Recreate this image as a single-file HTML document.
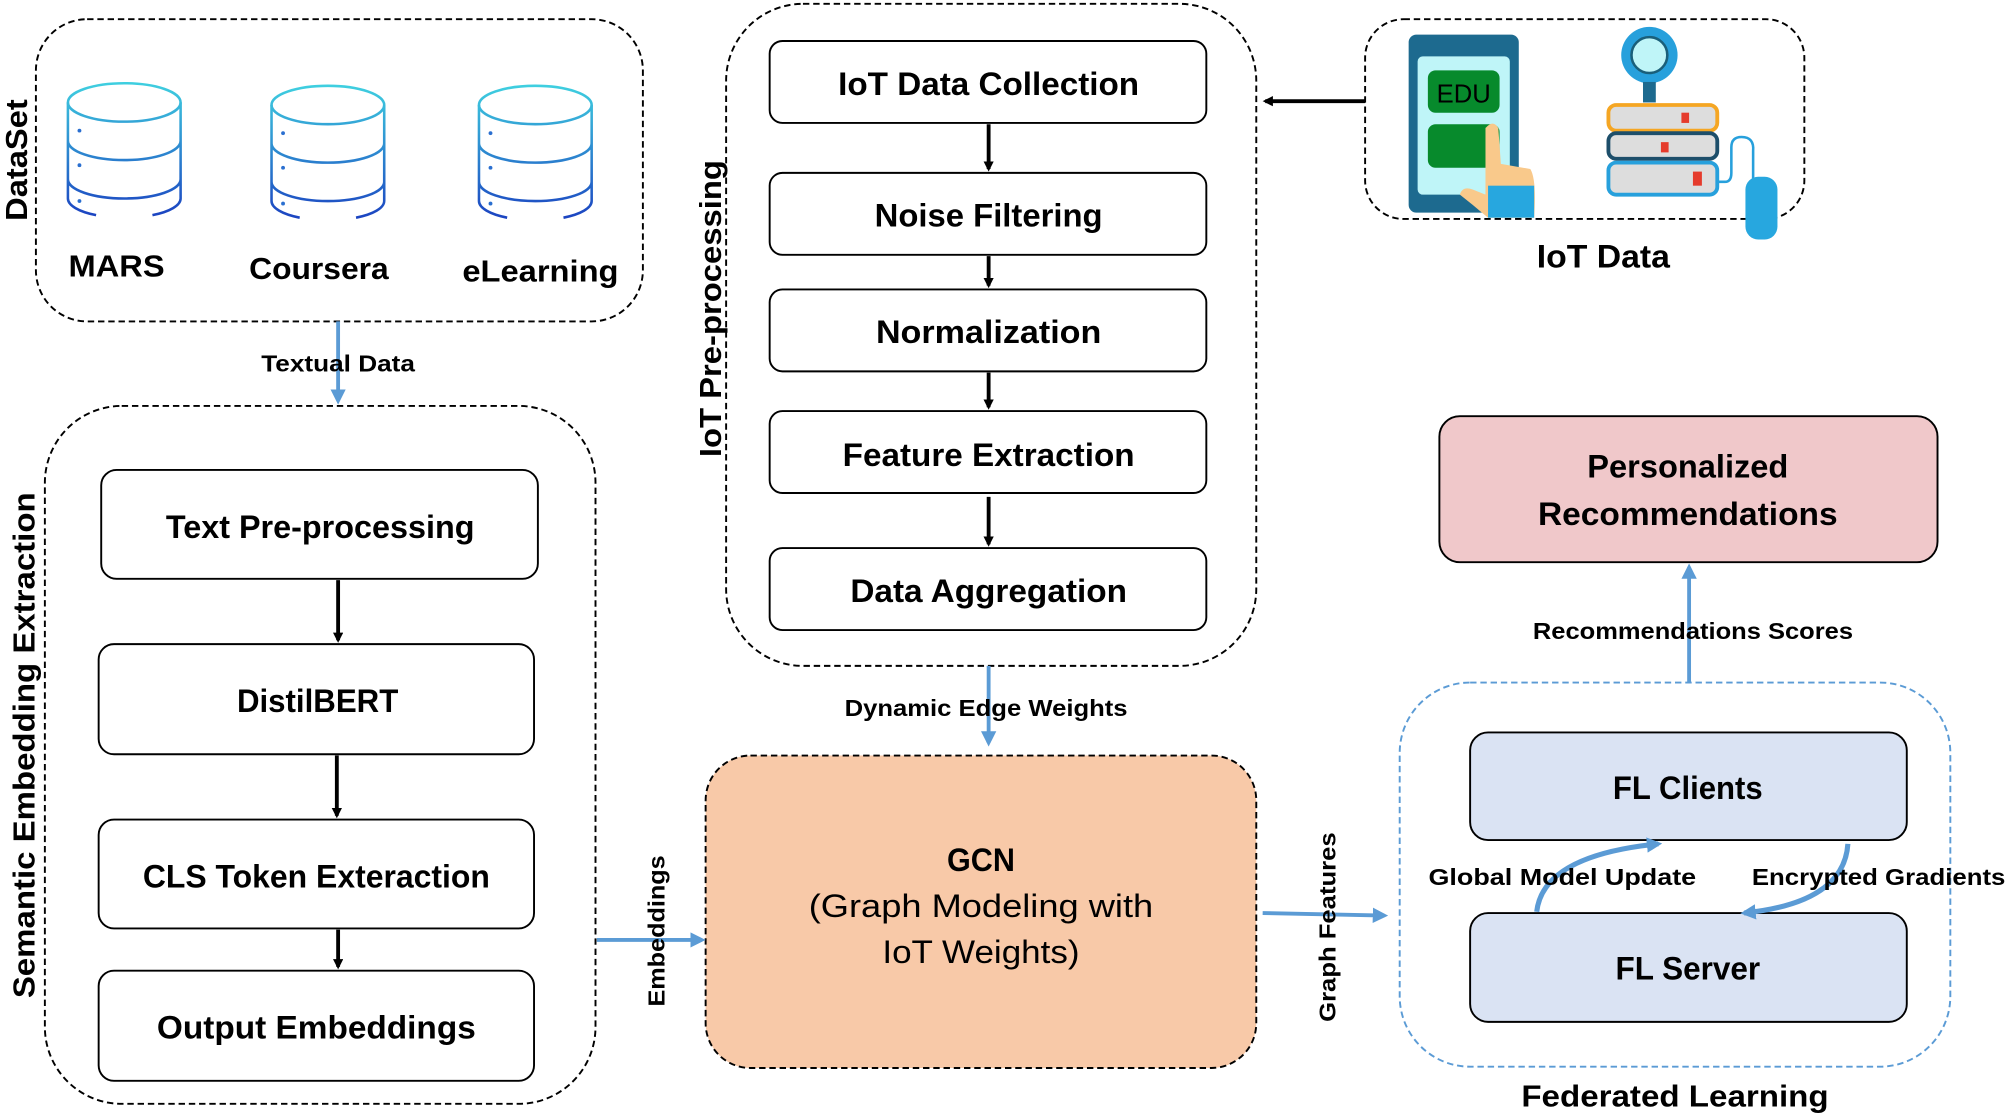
<!DOCTYPE html>
<html><head><meta charset="utf-8"><style>
html,body{margin:0;padding:0;background:#fff;}
svg{display:block;}
text{font-family:"Liberation Sans",sans-serif;font-weight:bold;fill:#000;}
</style></head><body>
<svg width="2008" height="1116" viewBox="0 0 1568 871.5" xmlns="http://www.w3.org/2000/svg">
<defs>
<marker id="ab" markerWidth="8" markerHeight="8" refX="6" refY="4" orient="auto" markerUnits="userSpaceOnUse"><path d="M0,0 L8,4 L0,8 z" fill="#000"/></marker>
<marker id="ablu" markerWidth="12" markerHeight="12" refX="9" refY="6" orient="auto" markerUnits="userSpaceOnUse"><path d="M0,0 L12,6 L0,12 z" fill="#5b9bd5"/></marker>
<linearGradient id="cyl" gradientUnits="userSpaceOnUse" x1="0" y1="64" x2="0" y2="172"><stop offset="0" stop-color="#3fd0e0"/><stop offset="1" stop-color="#1a3fc0"/></linearGradient>
</defs>

<!-- DataSet -->
<rect x="28" y="15" width="474" height="236" rx="40" fill="none" stroke="#000" stroke-width="1.5" stroke-dasharray="5,3"/>
<text transform="translate(21,125) rotate(-90)" text-anchor="middle" font-size="24" textLength="95" lengthAdjust="spacingAndGlyphs">DataSet</text>
<g fill="none" stroke="url(#cyl)" stroke-width="2">
<g id="c1">
<ellipse cx="97" cy="80" rx="44" ry="15"/>
<path d="M53,80 V155 M141,80 V155 M53,110 A44,15 0 0 0 141,110 M53,140 A44,15 0 0 0 141,140 M53,155 A44,15 0 0 0 75,168 M141,155 A44,15 0 0 1 119,168"/>
<circle cx="62" cy="102" r="1.5" fill="#2a6fd0" stroke="none"/><circle cx="62" cy="129" r="1.5" fill="#2a6fd0" stroke="none"/><circle cx="62" cy="157" r="1.5" fill="#2a6fd0" stroke="none"/>
</g>
<use href="#c1" x="159" y="2"/>
<use href="#c1" x="321" y="2"/>
</g>
<text x="91" y="216" text-anchor="middle" font-size="24" textLength="75" lengthAdjust="spacingAndGlyphs">MARS</text>
<text x="249" y="218" text-anchor="middle" font-size="24" textLength="109" lengthAdjust="spacingAndGlyphs">Coursera</text>
<text x="422" y="220" text-anchor="middle" font-size="24" textLength="122" lengthAdjust="spacingAndGlyphs">eLearning</text>

<line x1="264" y1="251" x2="264" y2="313" stroke="#5b9bd5" stroke-width="3" marker-end="url(#ablu)"/>
<text x="264" y="290" text-anchor="middle" font-size="18" textLength="120" lengthAdjust="spacingAndGlyphs">Textual Data</text>

<!-- Semantic -->
<rect x="35" y="317" width="430" height="545" rx="60" fill="none" stroke="#000" stroke-width="1.5" stroke-dasharray="5,3"/>
<text transform="translate(27,582) rotate(-90)" text-anchor="middle" font-size="24" textLength="395" lengthAdjust="spacingAndGlyphs">Semantic Embedding Extraction</text>
<g fill="#fff" stroke="#000" stroke-width="1.5">
<rect x="79" y="367" width="341" height="85" rx="12"/>
<rect x="77" y="503" width="340" height="86" rx="12"/>
<rect x="77" y="640" width="340" height="85" rx="12"/>
<rect x="77" y="758" width="340" height="86" rx="12"/>
</g>
<text x="250" y="420" text-anchor="middle" font-size="25" textLength="241" lengthAdjust="spacingAndGlyphs">Text Pre-processing</text>
<text x="248" y="556" text-anchor="middle" font-size="25" textLength="126" lengthAdjust="spacingAndGlyphs">DistilBERT</text>
<text x="247" y="693" text-anchor="middle" font-size="25" textLength="271" lengthAdjust="spacingAndGlyphs">CLS Token Exteraction</text>
<text x="247" y="811" text-anchor="middle" font-size="25" textLength="249" lengthAdjust="spacingAndGlyphs">Output Embeddings</text>
<g stroke="#000" stroke-width="3" marker-end="url(#ab)">
<line x1="264" y1="453" x2="264" y2="500"/>
<line x1="263" y1="590" x2="263" y2="637"/>
<line x1="264" y1="726" x2="264" y2="755"/>
</g>

<!-- IoT Pre-processing -->
<rect x="567" y="3" width="414" height="517" rx="60" fill="none" stroke="#000" stroke-width="1.5" stroke-dasharray="5,3"/>
<text transform="translate(563,241) rotate(-90)" text-anchor="middle" font-size="24" textLength="232" lengthAdjust="spacingAndGlyphs">IoT Pre-processing</text>
<g fill="#fff" stroke="#000" stroke-width="1.5">
<rect x="601" y="32" width="341" height="64" rx="10"/>
<rect x="601" y="135" width="341" height="64" rx="10"/>
<rect x="601" y="226" width="341" height="64" rx="10"/>
<rect x="601" y="321" width="341" height="64" rx="10"/>
<rect x="601" y="428" width="341" height="64" rx="10"/>
</g>
<text x="772" y="74" text-anchor="middle" font-size="25" textLength="235" lengthAdjust="spacingAndGlyphs">IoT Data Collection</text>
<text x="772" y="177" text-anchor="middle" font-size="25" textLength="178" lengthAdjust="spacingAndGlyphs">Noise Filtering</text>
<text x="772" y="268" text-anchor="middle" font-size="25" textLength="176" lengthAdjust="spacingAndGlyphs">Normalization</text>
<text x="772" y="364" text-anchor="middle" font-size="25" textLength="228" lengthAdjust="spacingAndGlyphs">Feature Extraction</text>
<text x="772" y="470" text-anchor="middle" font-size="25" textLength="216" lengthAdjust="spacingAndGlyphs">Data Aggregation</text>
<g stroke="#000" stroke-width="3" marker-end="url(#ab)">
<line x1="772" y1="97" x2="772" y2="132"/>
<line x1="772" y1="200" x2="772" y2="223"/>
<line x1="772" y1="291" x2="772" y2="318"/>
<line x1="772" y1="388" x2="772" y2="425"/>
</g>

<!-- IoT Data -->
<rect x="1066" y="15" width="343" height="156" rx="30" fill="none" stroke="#000" stroke-width="1.5" stroke-dasharray="5,3"/>
<line x1="1066" y1="79" x2="988" y2="79" stroke="#000" stroke-width="3" marker-end="url(#ab)"/>
<rect x="1100" y="27" width="86" height="139" rx="6" fill="#1d6a8f"/>
<rect x="1107" y="44" width="72" height="108" rx="4" fill="#bff5f8"/>
<rect x="1115" y="55" width="56" height="33" rx="6" fill="#078a2c"/>
<text x="1143" y="80" text-anchor="middle" font-size="20" style="font-weight:normal">EDU</text>
<rect x="1115" y="97" width="56" height="34" rx="6" fill="#078a2c"/>
<path d="M1160,100 Q1166,93 1170,100 L1172,128 L1195,132 Q1200,140 1198,170 L1162,170 L1150,160 L1140,152 Q1142,145 1150,148 L1160,152 Z" fill="#f9c98b"/>
<rect x="1162" y="145" width="36" height="25" fill="#27a7df"/>
<circle cx="1288" cy="43" r="22" fill="#27a0dc"/>
<circle cx="1288" cy="43" r="14" fill="#bff5f8" stroke="#1a5f7a" stroke-width="2"/>
<rect x="1283" y="64" width="10" height="16" fill="#1d6a8f"/>
<rect x="1256" y="82" width="85" height="20" rx="6" fill="#ddd" stroke="#f5a623" stroke-width="3"/>
<rect x="1256" y="104" width="85" height="20" rx="6" fill="#ddd" stroke="#1d4e6a" stroke-width="3"/>
<rect x="1256" y="127" width="85" height="25" rx="6" fill="#ddd" stroke="#27a0dc" stroke-width="3"/>
<rect x="1313" y="88" width="6" height="8" fill="#e53b2c"/><rect x="1297" y="111" width="6" height="8" fill="#e53b2c"/><rect x="1322" y="134" width="7" height="11" fill="#e53b2c"/>
<path d="M1341,142 L1347,142 Q1352,142 1352,135 L1352,115 Q1352,107 1360,107 Q1370,107 1369,118 L1369,150" fill="none" stroke="#27a0dc" stroke-width="2"/>
<rect x="1363" y="147" width="25" height="49" rx="10" fill="#27a7df" transform="translate(0,-9)"/>
<text x="1252" y="209" text-anchor="middle" font-size="25" textLength="104" lengthAdjust="spacingAndGlyphs">IoT Data</text>

<!-- Dynamic edge -->
<line x1="772" y1="520" x2="772" y2="580" stroke="#5b9bd5" stroke-width="3" marker-end="url(#ablu)"/>
<text x="770" y="559" text-anchor="middle" font-size="18" textLength="221" lengthAdjust="spacingAndGlyphs">Dynamic Edge Weights</text>

<!-- GCN -->
<rect x="551" y="590" width="430" height="244" rx="35" fill="#f8c9a8" stroke="#000" stroke-width="1.5" stroke-dasharray="5,3"/>
<text x="766" y="680" text-anchor="middle" font-size="25" textLength="53" lengthAdjust="spacingAndGlyphs">GCN</text>
<text x="766" y="716" text-anchor="middle" font-size="25" style="font-weight:normal" textLength="269" lengthAdjust="spacingAndGlyphs">(Graph Modeling with</text>
<text x="766" y="752" text-anchor="middle" font-size="25" style="font-weight:normal" textLength="154" lengthAdjust="spacingAndGlyphs">IoT Weights)</text>

<line x1="466" y1="734" x2="548" y2="734" stroke="#5b9bd5" stroke-width="3" marker-end="url(#ablu)"/>
<text transform="translate(519,727) rotate(-90)" text-anchor="middle" font-size="18" textLength="118" lengthAdjust="spacingAndGlyphs">Embeddings</text>
<line x1="986" y1="713" x2="1081" y2="715" stroke="#5b9bd5" stroke-width="3" marker-end="url(#ablu)"/>
<text transform="translate(1043,724) rotate(-90)" text-anchor="middle" font-size="18" textLength="148" lengthAdjust="spacingAndGlyphs">Graph Features</text>

<!-- FL -->
<rect x="1093" y="533" width="430" height="300" rx="55" fill="none" stroke="#5b9bd5" stroke-width="1.5" stroke-dasharray="5,3"/>
<rect x="1148" y="572" width="341" height="84" rx="14" fill="#dae3f3" stroke="#000" stroke-width="1.5"/>
<rect x="1148" y="713" width="341" height="85" rx="14" fill="#dae3f3" stroke="#000" stroke-width="1.5"/>
<text x="1318" y="624" text-anchor="middle" font-size="25" textLength="117" lengthAdjust="spacingAndGlyphs">FL Clients</text>
<text x="1318" y="765" text-anchor="middle" font-size="25" textLength="113" lengthAdjust="spacingAndGlyphs">FL Server</text>
<path d="M1200,712 Q1205,668 1295,659" fill="none" stroke="#5b9bd5" stroke-width="4" marker-end="url(#ablu)"/>
<path d="M1443,659 Q1440,705 1362,713" fill="none" stroke="#5b9bd5" stroke-width="4" marker-end="url(#ablu)"/>
<text x="1220" y="691" text-anchor="middle" font-size="18" textLength="209" lengthAdjust="spacingAndGlyphs">Global Model Update</text>
<text x="1467" y="691" text-anchor="middle" font-size="18" textLength="198" lengthAdjust="spacingAndGlyphs">Encrypted Gradients</text>
<text x="1308" y="864" text-anchor="middle" font-size="24" textLength="240" lengthAdjust="spacingAndGlyphs">Federated Learning</text>

<line x1="1319" y1="533" x2="1319" y2="443" stroke="#5b9bd5" stroke-width="3" marker-end="url(#ablu)"/>
<text x="1322" y="499" text-anchor="middle" font-size="18" textLength="250" lengthAdjust="spacingAndGlyphs">Recommendations Scores</text>

<rect x="1124" y="325" width="389" height="114" rx="16" fill="#f0c8ca" stroke="#000" stroke-width="1.5"/>
<text x="1318" y="373" text-anchor="middle" font-size="25" textLength="157" lengthAdjust="spacingAndGlyphs">Personalized</text>
<text x="1318" y="410" text-anchor="middle" font-size="25" textLength="234" lengthAdjust="spacingAndGlyphs">Recommendations</text>
</svg>
</body></html>
